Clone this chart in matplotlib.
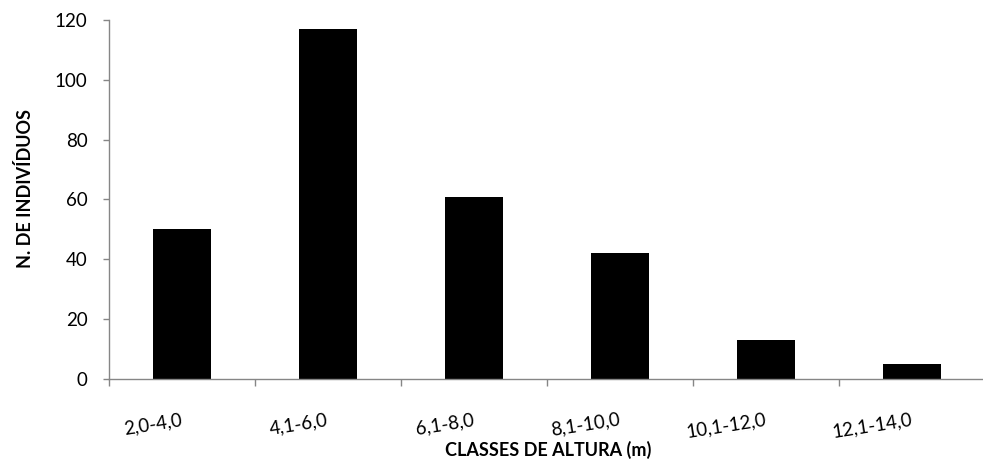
import matplotlib
matplotlib.use('Agg')
import matplotlib.pyplot as plt
import numpy as np

classes = ['2,0-4,0', '4,1-6,0', '6,1-8,0', '8,1-10,0', '10,1-12,0', '12,1-14,0']
counts = [50, 117, 61, 42, 13, 5]

plt.rcParams['font.family'] = ['Lato', 'DejaVu Sans']

fig = plt.figure(figsize=(9.83, 4.61), dpi=100)
ax = fig.add_axes([109 / 983, (461 - 379) / 461, 876 / 983, 359 / 461])

x = np.arange(len(classes))
ax.bar(x, counts, width=0.4, color='black')

ax.set_xlim(-0.5, len(classes) - 0.5)
ax.set_ylim(0, 120)
ax.set_yticks(range(0, 121, 20))

# ticks on category boundaries, labels under the bars
ax.set_xticks(np.arange(-0.5, len(classes), 1.0))
ax.set_xticklabels([])
ax.set_xticks(x, minor=True)
ax.set_xticklabels(classes, minor=True, rotation=9, ha='right', va='center',
                   rotation_mode='anchor', fontsize=13.5)
ax.tick_params(axis='x', which='minor', length=0, pad=29)
ax.tick_params(axis='x', which='major', length=5, width=1, color='#868686')
ax.tick_params(axis='y', length=4.5, width=1, color='#868686', pad=11, labelsize=13.5)

for s in ['top', 'right']:
    ax.spines[s].set_visible(False)
for s in ['left', 'bottom']:
    ax.spines[s].set_color('#868686')
    ax.spines[s].set_linewidth(1)

fig.text(25 / 983, 1 - 188 / 461, 'N. DE INDIVÍDUOS', rotation=90, ha='center', va='center',
         fontsize=13, fontweight='bold')
fig.text(548 / 983, 1 - 450 / 461, 'CLASSES DE ALTURA (m)', ha='center', va='center',
         fontsize=13, fontweight='bold')

fig.savefig('out.png', dpi=100)
